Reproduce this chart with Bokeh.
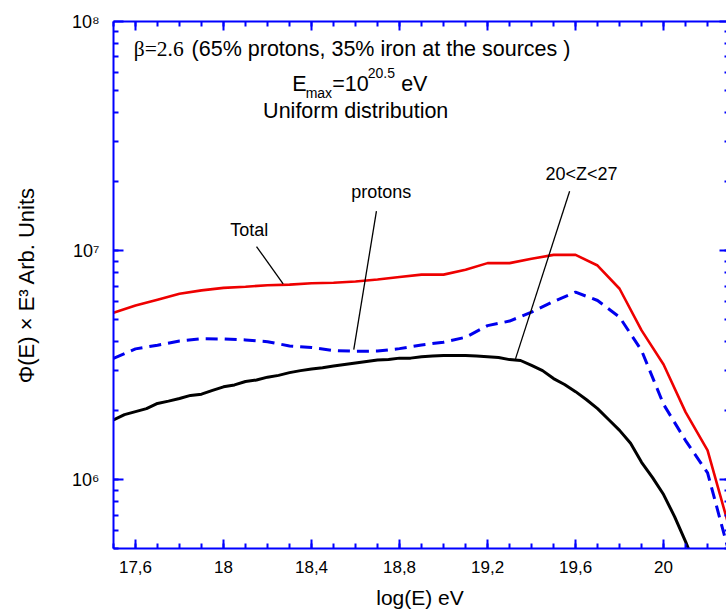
from bokeh.plotting import figure
from bokeh.models import (FixedTicker, Range1d, LinearAxis, LogAxis, Label,
                          CustomJSTickFormatter)
from bokeh.embed import file_html
from bokeh.resources import INLINE

# ---- spectra: Phi(E) * E^3 (arbitrary units) versus log10(E / eV) ----
log_e = [17.5, 17.6, 17.7, 17.8, 17.9, 18.0, 18.1, 18.2, 18.3, 18.4,
         18.5, 18.6, 18.7, 18.8, 18.9, 19.0, 19.1, 19.2, 19.3, 19.4,
         19.5, 19.6, 19.7, 19.8, 19.9, 20.0, 20.1, 20.2, 20.3]

total = [5.35e6, 5.75e6, 6.10e6, 6.47e6, 6.70e6, 6.87e6, 6.95e6, 7.05e6, 7.10e6, 7.20e6,
         7.23e6, 7.33e6, 7.47e6, 7.66e6, 7.85e6, 7.85e6, 8.24e6, 8.81e6, 8.81e6, 9.20e6,
         9.57e6, 9.57e6, 8.60e6, 6.81e6, 4.48e6, 3.18e6, 1.97e6, 1.34e6, 6.1e5]

protons = [3.38e6, 3.72e6, 3.86e6, 4.03e6, 4.12e6, 4.11e6, 4.07e6, 4.00e6, 3.83e6, 3.77e6,
           3.66e6, 3.63e6, 3.64e6, 3.73e6, 3.87e6, 3.98e6, 4.18e6, 4.70e6, 4.92e6, 5.38e6,
           5.99e6, 6.58e6, 6.05e6, 5.12e6, 3.66e6, 2.13e6, 1.48e6, 1.07e6, 4.7e5]

# nuclei with 20 < Z < 27, finer energy grid
log_e_fe = [17.50, 17.55, 17.60, 17.65, 17.70, 17.75, 17.80, 17.85, 17.90, 17.95,
            18.00, 18.05, 18.10, 18.15, 18.20, 18.25, 18.30, 18.35, 18.40, 18.45,
            18.50, 18.55, 18.60, 18.65, 18.70, 18.75, 18.80, 18.85, 18.90, 18.95,
            19.00, 19.05, 19.10, 19.15, 19.20, 19.25, 19.30, 19.35, 19.40, 19.45,
            19.50, 19.55, 19.60, 19.65, 19.70, 19.75, 19.80, 19.85, 19.90, 19.95,
            20.00, 20.05, 20.10, 20.15]

iron_group = [1.82e6, 1.92e6, 1.98e6, 2.04e6, 2.15e6, 2.20e6, 2.26e6, 2.33e6, 2.36e6, 2.45e6,
              2.54e6, 2.59e6, 2.68e6, 2.72e6, 2.80e6, 2.85e6, 2.93e6, 2.99e6, 3.04e6, 3.08e6,
              3.13e6, 3.18e6, 3.23e6, 3.28e6, 3.33e6, 3.34e6, 3.39e6, 3.39e6, 3.44e6, 3.46e6,
              3.48e6, 3.48e6, 3.48e6, 3.46e6, 3.44e6, 3.41e6, 3.34e6, 3.31e6, 3.15e6, 2.99e6,
              2.76e6, 2.60e6, 2.42e6, 2.23e6, 2.04e6, 1.83e6, 1.64e6, 1.44e6, 1.19e6, 1.02e6,
              8.60e5, 6.89e5, 5.36e5, 4.07e5]

# axis ticks
x_major = [17.6, 18.0, 18.4, 18.8, 19.2, 19.6, 20.0]
x_major_labels = ["17,6", "18", "18,4", "18,8", "19,2", "19,6", "20"]
y_major = [1e6, 1e7, 1e8]
y_major_labels = ["10\u2076", "10\u2077", "10\u2078"]

# curve labels (text centre) and their leader lines, in (log E, flux)
curve_labels = ["Total", "protons", "20<Z<27"]
curve_label_x = [18.117, 18.717, 19.627]
curve_label_y = [1.233e7, 1.801e7, 2.159e7]
leader_x0 = [18.150, 18.695, 19.573]
leader_y0 = [1.041e7, 1.485e7, 1.815e7]
leader_x1 = [18.271, 18.592, 19.327]
leader_y1 = [7.155e6, 3.696e6, 3.365e6]

AXIS_BLUE = "#0000ff"
SANS = "Liberation Sans"

x_minor = [round(17.5 + 0.1 * i, 1) for i in range(29)]
y_minor = [k * 10.0 ** n for n in (5, 6, 7) for k in range(1, 10)]

p = figure(width=726, height=615,
           x_range=Range1d(17.5, 20.286), y_range=Range1d(5e5, 1e8),
           y_axis_type="log", output_backend="svg", toolbar_location=None,
           min_border_left=113, min_border_right=0, min_border_top=21,
           min_border_bottom=67)
p.outline_line_color = None
p.xgrid.visible = False
p.ygrid.visible = False
p.background_fill_color = "white"
p.border_fill_color = "white"


def style_axis(ax, major_in, minor_in):
    ax.axis_line_color = AXIS_BLUE
    ax.axis_line_width = 2
    ax.major_tick_line_color = AXIS_BLUE
    ax.minor_tick_line_color = AXIS_BLUE
    ax.major_tick_line_width = 2
    ax.minor_tick_line_width = 2
    ax.major_tick_in = major_in
    ax.major_tick_out = 0
    ax.minor_tick_in = minor_in
    ax.minor_tick_out = 0


# bottom axis
xb = p.xaxis[0]
xb.ticker = FixedTicker(ticks=x_major, minor_ticks=x_minor)
xb.major_label_overrides = dict(zip(x_major, x_major_labels))
style_axis(xb, 9, 5)
xb.major_label_text_font = SANS
xb.major_label_text_font_size = "17px"
xb.major_label_text_color = "black"
xb.major_label_standoff = 12
xb.axis_label = "log(E) eV"
xb.axis_label_text_font = SANS
xb.axis_label_text_font_size = "21px"
xb.axis_label_text_font_style = "normal"
xb.axis_label_text_color = "black"
xb.axis_label_standoff = 10

# left axis
yl = p.yaxis[0]
yl.ticker = FixedTicker(ticks=y_major, minor_ticks=y_minor)
yl.major_label_overrides = dict(zip(y_major, y_major_labels))
style_axis(yl, 10, 5)
yl.major_label_text_font = SANS
yl.major_label_text_font_size = "18px"
yl.major_label_text_color = "black"
yl.major_label_standoff = 14
yl.axis_label = "\u03a6(E) \u00d7 E\u00b3 Arb. Units"
yl.axis_label_text_font = SANS
yl.axis_label_text_font_size = "22px"
yl.axis_label_text_font_style = "normal"
yl.axis_label_text_color = "black"
yl.axis_label_standoff = 30

blank = CustomJSTickFormatter(code="return ''")

# top axis: ticks only
xt = LinearAxis(ticker=FixedTicker(ticks=x_major, minor_ticks=x_minor), formatter=blank)
style_axis(xt, 9, 5)
xt.major_label_text_font_size = "0px"
xt.major_label_standoff = 0
p.add_layout(xt, "above")

# right axis: ticks only, the frame edge sits at the page border
yr = LogAxis(ticker=FixedTicker(ticks=y_major, minor_ticks=y_minor), formatter=blank)
style_axis(yr, 7, 2)
yr.axis_line_color = None
yr.major_label_text_font_size = "0px"
yr.major_label_standoff = 0
p.add_layout(yr, "right")

# spectra
p.line(log_e, total, line_color="#ee0000", line_width=2.6)
p.line(log_e, protons, line_color="#0000ee", line_width=3, line_dash="12 7")
p.line(log_e_fe, iron_group, line_color="black", line_width=3)

# leader lines and curve labels
p.segment(x0=leader_x0, y0=leader_y0, x1=leader_x1, y1=leader_y1,
          line_color="black", line_width=1.3)
for txt, lx, ly in zip(curve_labels, curve_label_x, curve_label_y):
    p.add_layout(Label(x=lx, y=ly, text=txt, text_font=SANS, text_font_size="18px",
                       text_align="center", text_baseline="middle",
                       text_color="black"))

# header text
head_y = 7.56e7
p.add_layout(Label(x=17.592, y=head_y, text="\u03b2=2.6", text_font="Liberation Serif",
                   text_font_size="21.5px", text_baseline="middle", text_color="black"))
p.add_layout(Label(x=17.855, y=head_y, text="(65% protons, 35% iron at the sources )",
                   text_font=SANS, text_font_size="21.5px", text_baseline="middle",
                   text_color="black"))

# E_max = 10^20.5 eV, built from pieces for sub/superscripts
emax_x, emax_y = 18.312, 5.35e7
emax_parts = [("E", "21.5px", 0, 0), ("max", "14px", 13.5, -9), ("=10", "21.5px", 40, 0),
              ("20.5", "14px", 75.6, 10.5), ("eV", "21.5px", 109, 0)]
for txt, size, dx, dy in emax_parts:
    p.add_layout(Label(x=emax_x, y=emax_y, text=txt, text_font=SANS, text_font_size=size,
                       x_offset=dx, y_offset=dy, text_baseline="middle",
                       text_color="black"))

p.add_layout(Label(x=18.180, y=4.055e7, text="Uniform distribution", text_font=SANS,
                   text_font_size="21.5px", text_baseline="middle", text_color="black"))

open("out.html", "w").write(file_html(p, INLINE))
